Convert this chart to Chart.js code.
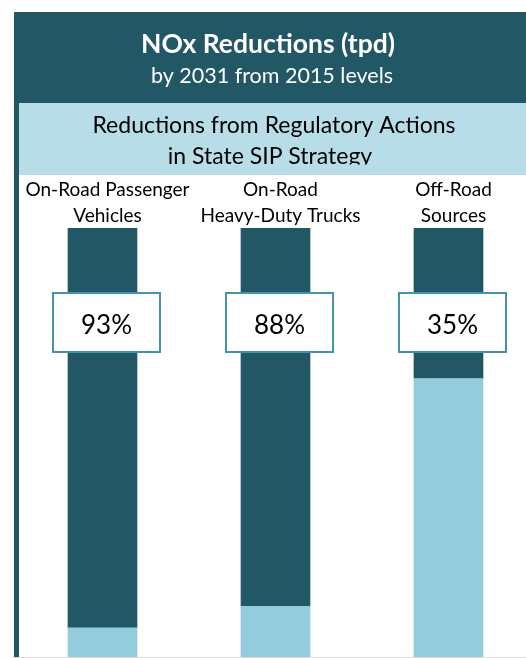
<!DOCTYPE html>
<html><head><meta charset="utf-8">
<script src="https://cdn.jsdelivr.net/npm/chart.js@4"></script>
<style>
html,body{margin:0;padding:0;overflow:hidden;background:#fff;width:526px;height:658px}
#wrap{position:relative;width:545px;height:658px}
canvas{display:block}
</style>
</head><body><div id="wrap"><canvas id="c" width="545" height="658"></canvas></div>
<script>
// ---- data ----
const titleText = 'NOx Reductions (tpd)';
const subtitleText = 'by 2031 from 2015 levels';
const bandLines = ['Reductions from Regulatory Actions', 'in State SIP Strategy'];
const categories = [['On-Road Passenger', 'Vehicles'], ['On-Road', 'Heavy-Duty Trucks'], ['Off-Road', 'Sources']];
const reductionPct = [93, 88, 35];
const remainingPct = [7, 12, 65];
const pctLabels = ['93%', '88%', '35%'];

// ---- styles ----
const DARK = '#225866';
const LIGHT = '#93ccdd';
const BAND = '#b7dee8';
const BORDER = '#4393a9';
const FONT = 'Lato';

const frame = {
  id: 'frame',
  beforeDraw(chart) {
    const ctx = chart.ctx, W = chart.width, H = chart.height;
    ctx.save();
    ctx.fillStyle = DARK; ctx.fillRect(14, 12, W - 14, H - 12);
    ctx.fillStyle = BAND; ctx.fillRect(19, 103, W - 19, 72);
    ctx.fillStyle = '#fff'; ctx.fillRect(19, 175, W - 19, H - 175);
    ctx.textAlign = 'center'; ctx.textBaseline = 'alphabetic';
    ctx.fillStyle = '#fff';
    ctx.font = 'bold 26.5px ' + FONT; ctx.fillText(titleText, 268, 53);
    ctx.font = '21.5px ' + FONT; ctx.fillText(subtitleText, 272, 83);
    ctx.save();
    ctx.beginPath(); ctx.rect(19, 103, W - 19, 61.5); ctx.clip();
    ctx.fillStyle = '#000';
    ctx.font = '23px ' + FONT;
    ctx.fillText(bandLines[0], 274, 133);
    ctx.fillText(bandLines[1], 270, 164);
    ctx.restore();
    ctx.restore();
  },
  afterDatasetsDraw(chart) {
    const ctx = chart.ctx, xs = chart.scales.x, top = chart.chartArea.top;
    ctx.save();
    pctLabels.forEach((t, i) => {
      const cx = xs.getPixelForValue(i) + 4;
      const y0 = top + 65;
      ctx.fillStyle = '#fff'; ctx.fillRect(cx - 53.5, y0, 107, 59);
      ctx.strokeStyle = BORDER; ctx.lineWidth = 2; ctx.strokeRect(cx - 53.5, y0, 107, 59);
      ctx.fillStyle = '#000'; ctx.font = '26px ' + FONT;
      ctx.textAlign = 'center'; ctx.textBaseline = 'alphabetic';
      ctx.fillText(t, cx, top + 106);
    });
    ctx.fillStyle = '#dcdcdc'; ctx.fillRect(13, chart.height - 1, chart.width, 1);
    ctx.restore();
  }
};

new Chart(document.getElementById('c'), {
  type: 'bar',
  data: {
    labels: categories,
    datasets: [
      { label: 'Remaining', data: remainingPct, backgroundColor: LIGHT, stack: 's' },
      { label: 'Reduction', data: reductionPct, backgroundColor: DARK, stack: 's' }
    ]
  },
  options: {
    responsive: false, animation: false, devicePixelRatio: 1, events: [],
    layout: { padding: { left: 16, right: 10, top: 176, bottom: 0 } },
    plugins: { legend: { display: false }, tooltip: { enabled: false }, title: { display: false } },
    datasets: { bar: { barThickness: 69, borderWidth: 0 } },
    scales: {
      x: {
        position: 'top', stacked: true,
        grid: { display: false, drawTicks: false }, border: { display: false },
        ticks: { font: { family: FONT, size: 19, lineHeight: 1.37 }, color: '#000', padding: -1,
                 labelOffset: 5, maxRotation: 0, autoSkip: false },
        afterFit(s) { s.height = 52; }
      },
      y: { display: false, stacked: true, min: 0, max: 100 }
    }
  },
  plugins: [frame]
});
</script>
</body></html>
